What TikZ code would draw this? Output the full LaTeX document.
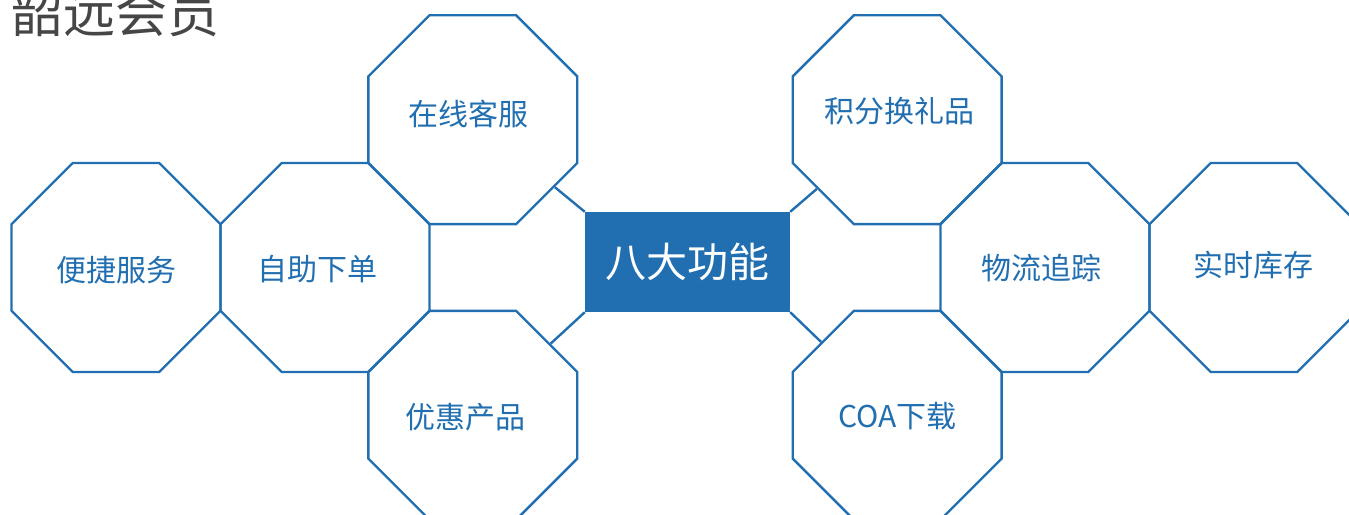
\documentclass[tikz,border=0pt]{standalone}
\usepackage{fontspec}
\newfontfamily\cjk{Noto Sans CJK SC}
\usetikzlibrary{shapes.geometric}
\definecolor{syBlue}{RGB}{33,111,176}
\definecolor{syGray}{RGB}{70,70,70}
\tikzset{
  octa/.style={regular polygon, regular polygon sides=8, minimum size=226.2pt,
    inner sep=0pt, draw=syBlue, line width=2.4pt},
  octatext/.style={text=syBlue, inner sep=0pt, font=\cjk\fontsize{30}{36}\selectfont},
  hub/.style={fill=syBlue, text=white, minimum width=205pt, minimum height=100pt,
    inner sep=0pt, font=\cjk\fontsize{41}{48}\selectfont},
  link/.style={draw=syBlue, line width=2.4pt}
}

\begin{document}
\begin{tikzpicture}[x=1pt,y=1pt]
    \useasboundingbox (0,0) rectangle (1349,-514);

    \node[anchor=base west, text=syGray, font=\cjk\fontsize{52}{60}\selectfont] (title) at (8,-32) {韶远会员};

    \node[hub] (hub) at (687.5,-262) {八大功能};

    % left group
    \node[octa, label={[octatext,yshift=-3pt]center:便捷服务}] (bianjie) at (116,-267.5) {};
    \node[octa, label={[octatext,xshift=-8pt,yshift=-2pt]center:自助下单}] (zizhu) at (325,-267.5) {};
    \node[octa, label={[octatext,xshift=-4pt,yshift=6pt]center:在线客服}] (kefu) at (472.8,-119.7) {};
    \node[octa, label={[octatext,xshift=-7pt,yshift=-2pt]center:优惠产品}] (youhui) at (472.8,-415.3) {};

    % right group
    \node[octa, label={[octatext,xshift=2pt,yshift=9pt]center:积分换礼品}] (jifen) at (897.2,-119.7) {};
    \node[octa, label={[octatext,xshift=-4pt,yshift=-1pt]center:物流追踪}] (wuliu) at (1045,-267.5) {};
    \node[octa, label={[octatext,xshift=-1pt,yshift=2pt]center:实时库存}] (kucun) at (1254,-267.5) {};
    \node[octa, label={[octatext,yshift=-1pt]center:COA下载}] (coa) at (897.2,-415.3) {};

    % links
    \draw[link] (hub.north west) -- (kefu);
    \draw[link] (hub.south west) -- (youhui);
    \draw[link] (hub.north east) -- (jifen);
    \draw[link] (hub.south east) -- (coa);
\end{tikzpicture}
\end{document}
